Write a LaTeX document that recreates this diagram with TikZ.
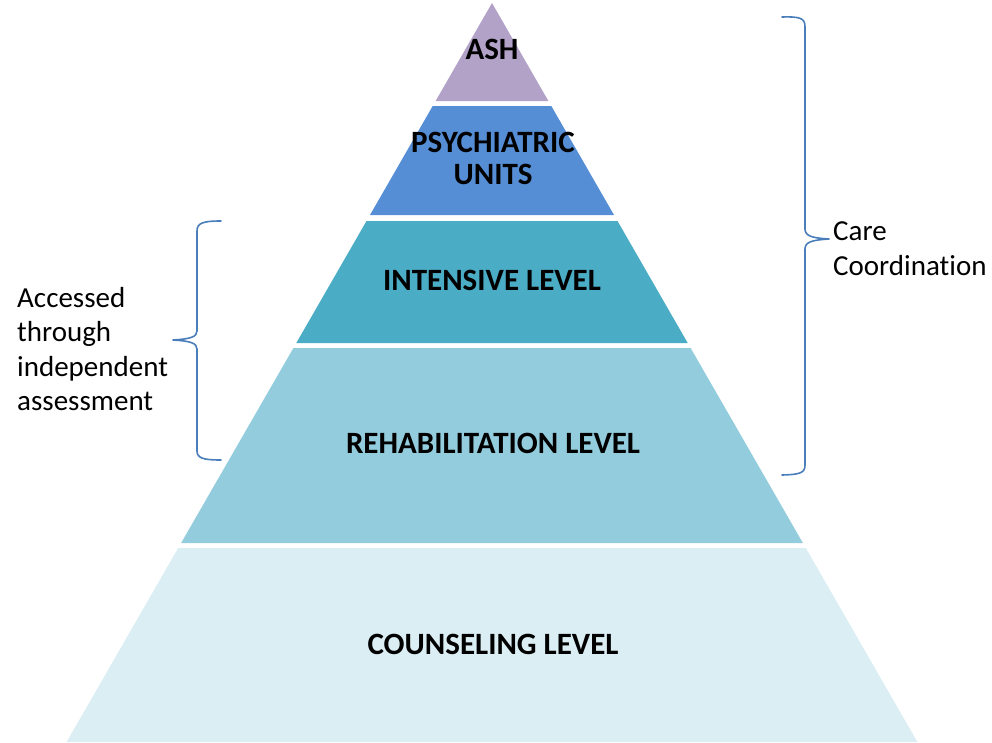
\documentclass[tikz,border=0pt]{standalone}
\usepackage{fontspec}
\setmainfont[Ligatures={NoCommon,NoRequired,NoContextual}]{Carlito}
\definecolor{cAsh}{HTML}{B3A2C7}
\definecolor{cPsy}{HTML}{558ED5}
\definecolor{cInt}{HTML}{4BACC6}
\definecolor{cReh}{HTML}{93CDDD}
\definecolor{cCou}{HTML}{DBEEF4}
\definecolor{cBrace}{HTML}{4A7EBB}
\begin{document}
\begin{tikzpicture}[x=1pt,y=-1pt,
  layertext/.style={font=\fontsize{31}{33}\selectfont\bfseries, text=black, anchor=base, align=center, inner sep=0pt},
  sidelabel/.style={font=\fontsize{29}{34.5}\selectfont, text=black, anchor=base west, align=left, inner sep=0pt},
  bracepath/.style={draw=cBrace, line width=1.6pt, line cap=round, line join=round}]
\useasboundingbox (0,0) rectangle (992,742);
% layers
\fill[cAsh] (492,3) -- (548.4,101) -- (435.6,101) -- cycle;
\fill[cPsy] (432.7,106) -- (551.3,106) -- (614.0,215) -- (370.0,215) -- cycle;
\fill[cInt] (366.5,221) -- (617.5,221) -- (687.7,343) -- (296.3,343) -- cycle;
\fill[cReh] (293.4,348) -- (690.6,348) -- (802.9,543) -- (181.1,543) -- cycle;
\fill[cCou] (178.2,548) -- (805.8,548) -- (917.4,742) -- (66.6,742) -- cycle;
% layer texts
\node[layertext] (ash) at (492,59) {ASH};
\node[layertext] (psy) at (493,152) {PSYCHIATRIC};
\node[layertext] (units) at (493,184) {UNITS};
\node[layertext] (int) at (492,290) {INTENSIVE LEVEL};
\node[layertext] (reh) at (493,453) {REHABILITATION LEVEL};
\node[layertext] (cou) at (493,654) {COUNSELING LEVEL};
% right brace
\draw[bracepath] (782,17) .. controls (800,16.5) and (805,18) .. (805,27)
  -- (805,229) .. controls (805,236) and (812,238) .. (829,239)
  .. controls (812,240) and (805,242) .. (805,249)
  -- (805,465) .. controls (805,473) and (800,474.5) .. (782,475);
% left brace
\draw[bracepath] (221,221) .. controls (203,221) and (197,223) .. (197,231)
  -- (197,331) .. controls (197,337) and (190,339) .. (173,340)
  .. controls (190,341) and (197,343) .. (197,349)
  -- (197,451) .. controls (197,458) and (203,460) .. (221,460);
% labels
\node[sidelabel] (care) at (833,240) {Care};
\node[sidelabel] (coord) at (833,275) {Coordination};
\node[sidelabel] (acc) at (17,307) {Accessed};
\node[sidelabel] (thr) at (17,341.5) {through};
\node[sidelabel] (ind) at (17,376) {independent};
\node[sidelabel] (ass) at (17,410.5) {assessment};
\end{tikzpicture}
\end{document}
